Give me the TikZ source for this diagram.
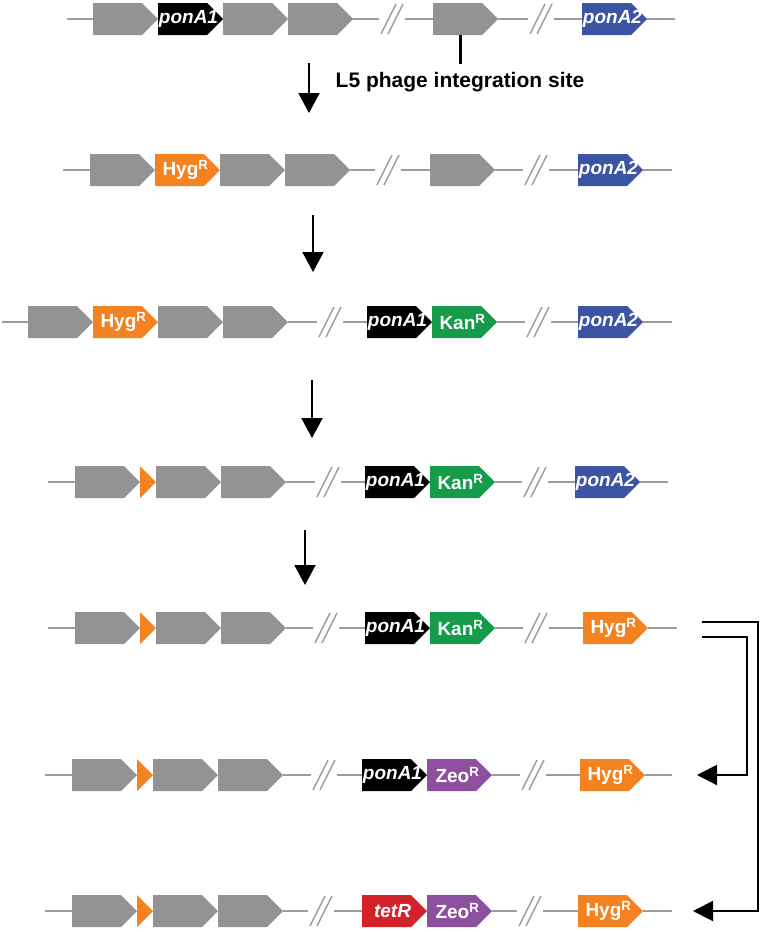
\documentclass[tikz,border=0pt]{standalone}
\usepackage{fontspec}
\setmainfont{Liberation Sans}
\usetikzlibrary{arrows.meta,positioning,shapes.symbols}

\definecolor{genegray}{HTML}{939393}
\definecolor{dnagray}{HTML}{9C9C9C}
\definecolor{ponblue}{HTML}{3B54A4}
\definecolor{hygorange}{HTML}{F58220}
\definecolor{kangreen}{HTML}{169B4A}
\definecolor{zeopurple}{HTML}{8C509F}
\definecolor{tetred}{HTML}{D3222A}

% gene label, centred on the whole arrow
\newcommand\gname[1]{\makebox[49pt][c]{\hspace{12pt}#1}}

\tikzset{
  brk/.pic={\draw[dnagray,line width=1.4pt] (-11,15) -- (4,-15);
            \draw[dnagray,line width=1.4pt] (-4,15) -- (11,-15);}
}

\begin{document}
\begin{tikzpicture}[x=1pt,y=-1pt,
    gene/.style={signal,signal to=east,signal pointer angle=90,
      minimum width=65pt,minimum height=32pt,inner sep=0pt,outer sep=0pt,
      fill=#1,text=white,font=\fontsize{19}{19}\selectfont\bfseries},
    gene/.default=genegray,
    scar/.style={signal,signal to=east,signal pointer angle=90,
      minimum width=16pt,minimum height=32pt,inner sep=0pt,outer sep=0pt,
      fill=hygorange},
    dna/.style={draw=dnagray,line width=2pt},
    down/.style={-{Triangle[width=21pt,length=20pt]},line width=2pt},
    back/.style={-{Triangle[width=20pt,length=20pt]},line width=2pt}]
  \useasboundingbox (0,0) rectangle (762,932);

  % row 1
  \coordinate (r1s) at (67,19);
  \node[gene,anchor=west] (a1) at (93,19) {};
  \node[gene=black,right=0pt of a1] (a2) {\gname{\itshape ponA1}};
  \node[gene,right=0pt of a2] (a3) {};
  \node[gene,right=0pt of a3] (a4) {};
  \coordinate (a7) at (392,19);
  \node[gene,anchor=west] (a5) at (433,19) {};
  \coordinate (a8) at (541,19);
  \node[gene=ponblue,anchor=west] (a6) at (582,19) {\gname{\itshape ponA2}};
  \coordinate (r1e) at (675,19);
  \draw[dna] (r1s) -- (a1.west) (a4.east) -- ([xshift=-13pt]a7)
    ([xshift=13pt]a7) -- (a5.west) (a5.east) -- ([xshift=-13pt]a8)
    ([xshift=13pt]a8) -- (a6.west) (a6.east) -- (r1e);
  \pic at (a7) {brk}; \pic at (a8) {brk};
  \node[font=\fontsize{21}{21}\selectfont\bfseries] (site) at (460,82) {L5 phage integration site};
  \draw[line width=3pt] (site.north |- a5.south) -- ++(0,29);

  % row 2
  \coordinate (r2s) at (63,170);
  \node[gene,anchor=west] (b1) at (90,170) {};
  \node[gene=hygorange,right=0pt of b1] (b2) {\gname{Hyg\textsuperscript{R}}};
  \node[gene,right=0pt of b2] (b3) {};
  \node[gene,right=0pt of b3] (b4) {};
  \coordinate (b7) at (388,170);
  \node[gene,anchor=west] (b5) at (430,170) {};
  \coordinate (b8) at (536,170);
  \node[gene=ponblue,anchor=west] (b6) at (578,170) {\gname{\itshape ponA2}};
  \coordinate (r2e) at (672,170);
  \draw[dna] (r2s) -- (b1.west) (b4.east) -- ([xshift=-13pt]b7)
    ([xshift=13pt]b7) -- (b5.west) (b5.east) -- ([xshift=-13pt]b8)
    ([xshift=13pt]b8) -- (b6.west) (b6.east) -- (r2e);
  \pic at (b7) {brk}; \pic at (b8) {brk};

  % row 3
  \coordinate (r3s) at (2,322);
  \node[gene,anchor=west] (c1) at (28,322) {};
  \node[gene=hygorange,right=0pt of c1] (c2) {\gname{Hyg\textsuperscript{R}}};
  \node[gene,right=0pt of c2] (c3) {};
  \node[gene,right=0pt of c3] (c4) {};
  \coordinate (c7) at (330,322);
  \node[gene=black,anchor=west] (c5) at (367,322) {\gname{\itshape ponA1}};
  \node[gene=kangreen,right=0pt of c5] (c6) {\gname{Kan\textsuperscript{R}}};
  \coordinate (c8) at (538,322);
  \node[gene=ponblue,anchor=west] (c9) at (578,322) {\gname{\itshape ponA2}};
  \coordinate (r3e) at (672,322);
  \draw[dna] (r3s) -- (c1.west) (c4.east) -- ([xshift=-13pt]c7)
    ([xshift=13pt]c7) -- (c5.west) (c6.east) -- ([xshift=-13pt]c8)
    ([xshift=13pt]c8) -- (c9.west) (c9.east) -- (r3e);
  \pic at (c7) {brk}; \pic at (c8) {brk};

  % row 4
  \coordinate (r4s) at (48,482);
  \node[gene,anchor=west] (d1) at (75,482) {};
  \node[scar,right=0pt of d1] (d2) {};
  \node[gene,right=0pt of d2] (d3) {};
  \node[gene,right=0pt of d3] (d4) {};
  \coordinate (d7) at (328,482);
  \node[gene=black,anchor=west] (d5) at (365,482) {\gname{\itshape ponA1}};
  \node[gene=kangreen,right=0pt of d5] (d6) {\gname{Kan\textsuperscript{R}}};
  \coordinate (d8) at (535,482);
  \node[gene=ponblue,anchor=west] (d9) at (575,482) {\gname{\itshape ponA2}};
  \coordinate (r4e) at (668,482);
  \draw[dna] (r4s) -- (d1.west) (d4.east) -- ([xshift=-13pt]d7)
    ([xshift=13pt]d7) -- (d5.west) (d6.east) -- ([xshift=-13pt]d8)
    ([xshift=13pt]d8) -- (d9.west) (d9.east) -- (r4e);
  \pic at (d7) {brk}; \pic at (d8) {brk};

  % row 5
  \coordinate (r5s) at (48,628);
  \node[gene,anchor=west] (e1) at (75,628) {};
  \node[scar,right=0pt of e1] (e2) {};
  \node[gene,right=0pt of e2] (e3) {};
  \node[gene,right=0pt of e3] (e4) {};
  \coordinate (e7) at (326,628);
  \node[gene=black,anchor=west] (e5) at (365,628) {\gname{\itshape ponA1}};
  \node[gene=kangreen,right=0pt of e5] (e6) {\gname{Kan\textsuperscript{R}}};
  \coordinate (e8) at (536,628);
  \node[gene=hygorange,anchor=west] (e9) at (583,628) {\gname{Hyg\textsuperscript{R}}};
  \coordinate (r5e) at (677,628);
  \draw[dna] (r5s) -- (e1.west) (e4.east) -- ([xshift=-13pt]e7)
    ([xshift=13pt]e7) -- (e5.west) (e6.east) -- ([xshift=-13pt]e8)
    ([xshift=13pt]e8) -- (e9.west) (e9.east) -- (r5e);
  \pic at (e7) {brk}; \pic at (e8) {brk};

  % row 6
  \coordinate (r6s) at (45,775);
  \node[gene,anchor=west] (f1) at (72,775) {};
  \node[scar,right=0pt of f1] (f2) {};
  \node[gene,right=0pt of f2] (f3) {};
  \node[gene,right=0pt of f3] (f4) {};
  \coordinate (f7) at (324,775);
  \node[gene=black,anchor=west] (f5) at (362,775) {\gname{\itshape ponA1}};
  \node[gene=zeopurple,right=0pt of f5] (f6) {\gname{Zeo\textsuperscript{R}}};
  \coordinate (f8) at (533,775);
  \node[gene=hygorange,anchor=west] (f9) at (580,775) {\gname{Hyg\textsuperscript{R}}};
  \coordinate (r6e) at (672,775);
  \draw[dna] (r6s) -- (f1.west) (f4.east) -- ([xshift=-13pt]f7)
    ([xshift=13pt]f7) -- (f5.west) (f6.east) -- ([xshift=-13pt]f8)
    ([xshift=13pt]f8) -- (f9.west) (f9.east) -- (r6e);
  \pic at (f7) {brk}; \pic at (f8) {brk};

  % row 7
  \coordinate (r7s) at (45,911);
  \node[gene,anchor=west] (g1) at (72,911) {};
  \node[scar,right=0pt of g1] (g2) {};
  \node[gene,right=0pt of g2] (g3) {};
  \node[gene,right=0pt of g3] (g4) {};
  \coordinate (g7) at (321,911);
  \node[gene=tetred,anchor=west] (g5) at (362,911) {\gname{\itshape tetR}};
  \node[gene=zeopurple,right=0pt of g5] (g6) {\gname{Zeo\textsuperscript{R}}};
  \coordinate (g8) at (530,911);
  \node[gene=hygorange,anchor=west] (g9) at (578,911) {\gname{Hyg\textsuperscript{R}}};
  \coordinate (r7e) at (672,911);
  \draw[dna] (r7s) -- (g1.west) (g4.east) -- ([xshift=-13pt]g7)
    ([xshift=13pt]g7) -- (g5.west) (g6.east) -- ([xshift=-13pt]g8)
    ([xshift=13pt]g8) -- (g9.west) (g9.east) -- (r7e);
  \pic at (g7) {brk}; \pic at (g8) {brk};

  % steps
  \coordinate (s1a) at (309,63);  \coordinate (s1b) at (309,113);
  \coordinate (s2a) at (313,215); \coordinate (s2b) at (313,272);
  \coordinate (s3a) at (312,380); \coordinate (s3b) at (312,438);
  \coordinate (s4a) at (305,530); \coordinate (s4b) at (305,585);
  \draw[down] (s1a) -- (s1b);
  \draw[down] (s2a) -- (s2b);
  \draw[down] (s3a) -- (s3b);
  \draw[down] (s4a) -- (s4b);

  \coordinate (k1) at (702,622); \coordinate (k2) at (702,637);
  \coordinate (t7) at (693,911); \coordinate (t6) at (697,775);
  \draw[back] (k1) -- ++(56,0) |- (t7);
  \draw[back] (k2) -- ++(45,0) |- (t6);
\end{tikzpicture}
\end{document}
